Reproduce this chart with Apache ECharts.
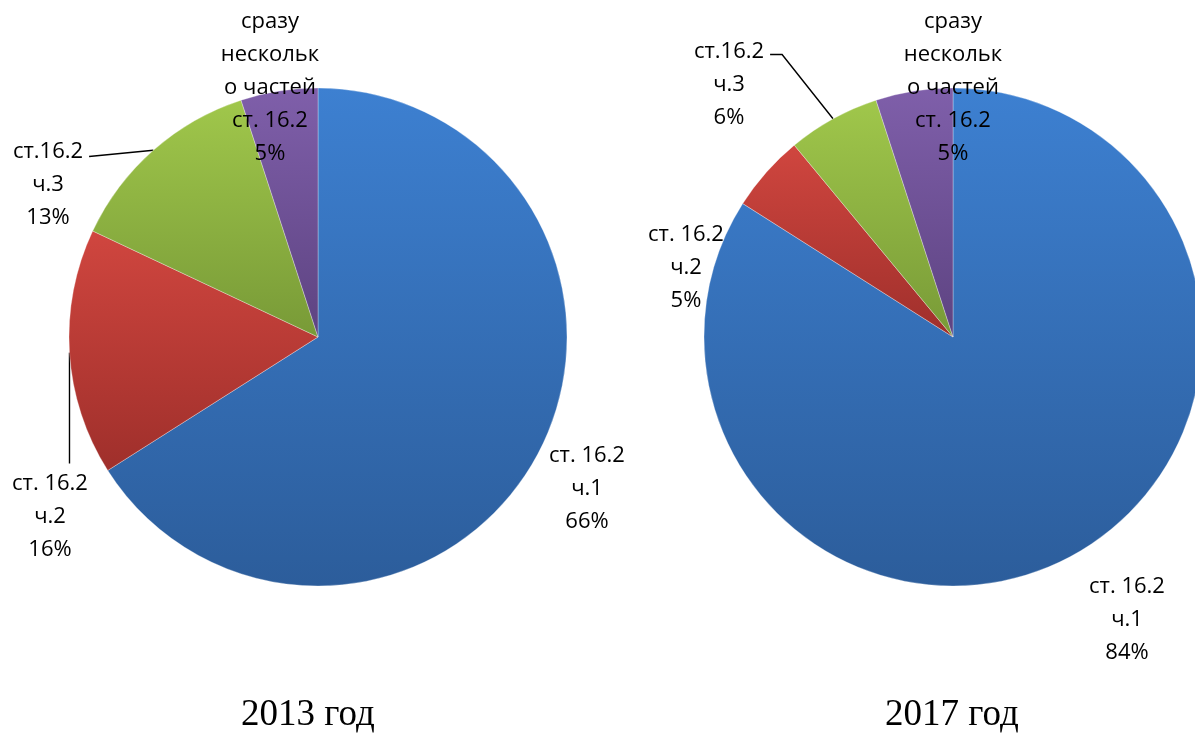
<!DOCTYPE html>
<html>
<head>
<meta charset="utf-8">
<script src="https://cdn.jsdelivr.net/npm/echarts@6/dist/echarts.min.js"></script>
<style>
  html, body { margin: 0; padding: 0; background: #fff; }
</style>
</head>
<body>
<div id="myChart" style="width: 1195px; height: 733px;"></div>
<script>
// категории (одинаковые для обоих лет)
var names2013 = ["ст. 16.2\nч.1", "ст. 16.2\nч.2", "ст.16.2\nч.3", "сразу\nнескольк\nо частей\nст. 16.2"];
var names2017 = ["ст. 16.2\nч.1", "ст. 16.2\nч.2", "ст.16.2\nч.3", "сразу\nнескольк\nо частей\nст. 16.2"];
// доли, %
var values2013 = [66, 16, 13, 5];
var values2017 = [84, 5, 6, 5];
var years = ["2013 год", "2017 год"];

// цвета секторов: [верх, низ] градиента
var colors = [
  ["#3D80D1", "#2C5D9B"],
  ["#D0463F", "#9F2F2B"],
  ["#A0C74B", "#789A37"],
  ["#7F5FAA", "#5D4381"]
];
// где стоят подписи (центр блока текста)
var labelPos = [
  [[587, 489], [50, 517], [48, 185], [270, 88]],
  [[1127, 620], [686, 268], [729, 85], [953, 88]]
];
// выноска: "" - нет, "up" - вертикально вверх, "side" - от правого края первой строки
var lineType = [
  ["", "up", "side", ""],
  ["", "", "side2", ""]
];

function grad(i) {
  return new echarts.graphic.LinearGradient(0, 0, 0, 1, [
    { offset: 0, color: colors[i][0] },
    { offset: 1, color: colors[i][1] }
  ]);
}

function buildData(names, values, s) {
  return values.map(function (v, i) {
    return {
      name: names[i],
      value: v,
      itemStyle: { color: grad(i) },
      labelLine: { show: lineType[s][i] !== "" }
    };
  });
}

var myChart = echarts.init(document.getElementById("myChart"));

function pieSeries(names, values, s, center) {
  return {
    type: "pie",
    center: center,
    radius: 249,
    startAngle: 90,
    clockwise: true,
    animation: false,
    silent: true,
    data: buildData(names, values, s),
    itemStyle: {
      borderWidth: 0.6,
      borderColor: "rgba(255,255,255,0.5)"
    },
    label: {
      show: true,
      position: "outside",
      formatter: "{b}\n{c}%",
      fontFamily: "Open Sans",
      fontSize: 22,
      lineHeight: 33,
      color: "#000",
      align: "center",
      overflow: "none"
    },
    labelLine: {
      show: true,
      length: 10,
      length2: 10,
      lineStyle: { color: "#000", width: 1.4 }
    },
    labelLayout: function (params) {
      var p = labelPos[s][params.dataIndex];
      var res = { x: p[0], y: p[1], align: "center", verticalAlign: "middle" };
      var t = lineType[s][params.dataIndex];
      var pts = params.labelLinePoints;
      if (t && pts && pts.length) {
        // точка на краю сектора берётся у самой ECharts
        var end = pts[0];
        var w = params.labelRect.width, h = params.labelRect.height;
        var top = p[1] - h / 2;
        if (t === "up") {
          res.labelLinePoints = [[end[0], top - 4], [end[0], top - 4], end];
        } else if (t === "side") {
          var sx = p[0] + w / 2 + 6, sy = top + 21;
          res.labelLinePoints = [[sx, sy], [sx, sy], end];
        } else {
          var sx2 = p[0] + w / 2 + 6, sy2 = top + 19;
          res.labelLinePoints = [[sx2, sy2], [sx2 + 12, sy2], end];
        }
      }
      return res;
    }
  };
}

var option = {
  backgroundColor: "#fff",
  graphic: [
    {
      type: "text",
      x: 308,
      y: 715,
      style: {
        text: years[0],
        font: "37px 'Liberation Serif'",
        fill: "#000",
        textAlign: "center",
        textVerticalAlign: "middle"
      }
    },
    {
      type: "text",
      x: 952,
      y: 715,
      style: {
        text: years[1],
        font: "37px 'Liberation Serif'",
        fill: "#000",
        textAlign: "center",
        textVerticalAlign: "middle"
      }
    }
  ],
  series: [
    pieSeries(names2013, values2013, 0, [318, 337]),
    pieSeries(names2017, values2017, 1, [953, 337])
  ]
};
myChart.setOption(option);
</script>
</body>
</html>
